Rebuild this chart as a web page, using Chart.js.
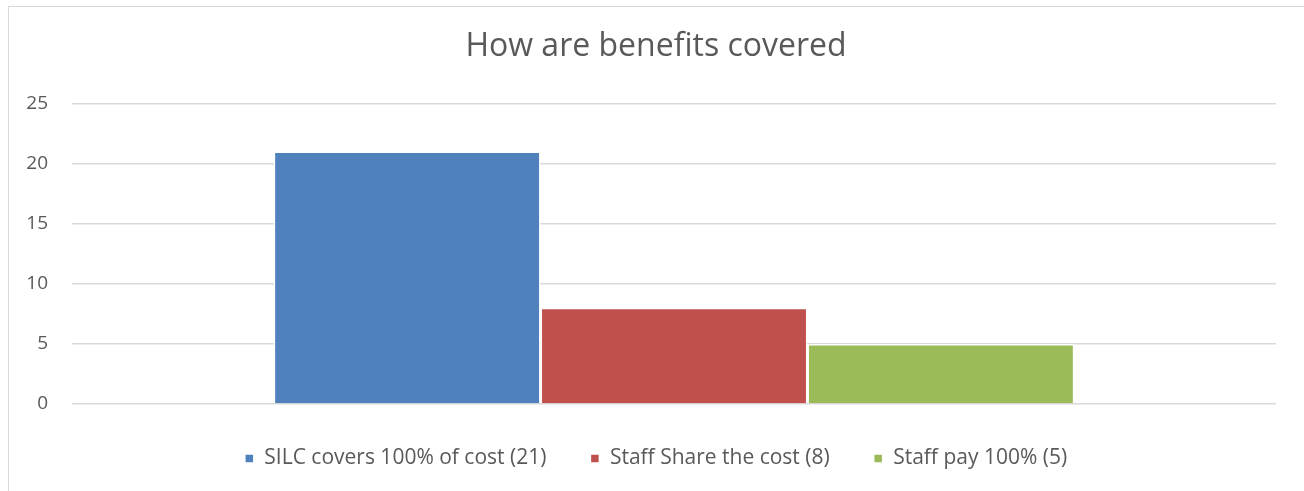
<!DOCTYPE html>
<html>
<head>
<meta charset="utf-8">
<title>How are benefits covered</title>
<script src="https://cdn.jsdelivr.net/npm/chart.js@4/dist/chart.umd.min.js"></script>
<style>
  html, body { margin: 0; padding: 0; background: #fff; overflow: hidden; }
  #frame {
    position: absolute; left: 8px; top: 6px; width: 1400px; height: 600px;
    border-left: 1px solid #d9d9d9; border-top: 1px solid #d9d9d9;
  }
  #wrap { position: absolute; left: 0; top: 0; width: 1304px; height: 491px; }
</style>
</head>
<body>
<div id="frame"></div>
<div id="wrap"><canvas id="chart"></canvas></div>
<script>
const TITLE = 'How are benefits covered';
const categories = [''];
const seriesNames = ['SILC covers 100% of cost (21)', 'Staff Share the cost (8)', 'Staff pay 100% (5)'];
const seriesValues = [[21], [8], [5]];
const seriesColors = ['#4f81bd', '#c0504d', '#9bbb59'];
const yTicks = [0, 5, 10, 15, 20, 25];

const FONT = "'Open Sans', 'Liberation Sans', sans-serif";
const TEXT = '#595959';

const datasets = seriesNames.map((name, i) => ({
  label: name,
  data: seriesValues[i],
  backgroundColor: seriesColors[i],
  borderColor: '#ffffff',
  borderWidth: 1.5,
  barPercentage: 1,
  categoryPercentage: 0.665,
}));

new Chart(document.getElementById('chart'), {
  type: 'bar',
  data: { labels: categories, datasets },
  options: {
    responsive: true,
    maintainAspectRatio: false,
    animation: false,
    layout: { padding: { left: 8, right: 0, top: 18, bottom: 12 } },
    scales: {
      x: { display: false },
      y: {
        min: 0,
        max: 25,
        afterBuildTicks: (scale) => { scale.ticks = yTicks.map((v) => ({ value: v })); },
        afterFit: (scale) => { scale.width = 64; },
        grid: { color: '#d9d9d9', lineWidth: 1.5, drawTicks: false },
        border: { display: false },
        ticks: { color: TEXT, font: { family: FONT, size: 19 }, padding: 24 },
      },
      // empty right-hand gutter so the plot stops short of the edge
      yRight: {
        position: 'right',
        afterFit: (scale) => { scale.width = 28; },
        grid: { display: false },
        border: { display: false },
        ticks: { display: false },
      },
    },
    plugins: {
      title: {
        display: true,
        text: TITLE,
        color: TEXT,
        font: { family: FONT, size: 32, weight: 'normal' },
        padding: { top: 10, bottom: 37 },
      },
      legend: {
        position: 'bottom',
        labels: {
          color: TEXT,
          font: { family: FONT, size: 21 },
          boxWidth: 9,
          boxHeight: 9,
          padding: 44,
        },
      },
      tooltip: { enabled: false },
    },
  },
});
</script>
</body>
</html>
